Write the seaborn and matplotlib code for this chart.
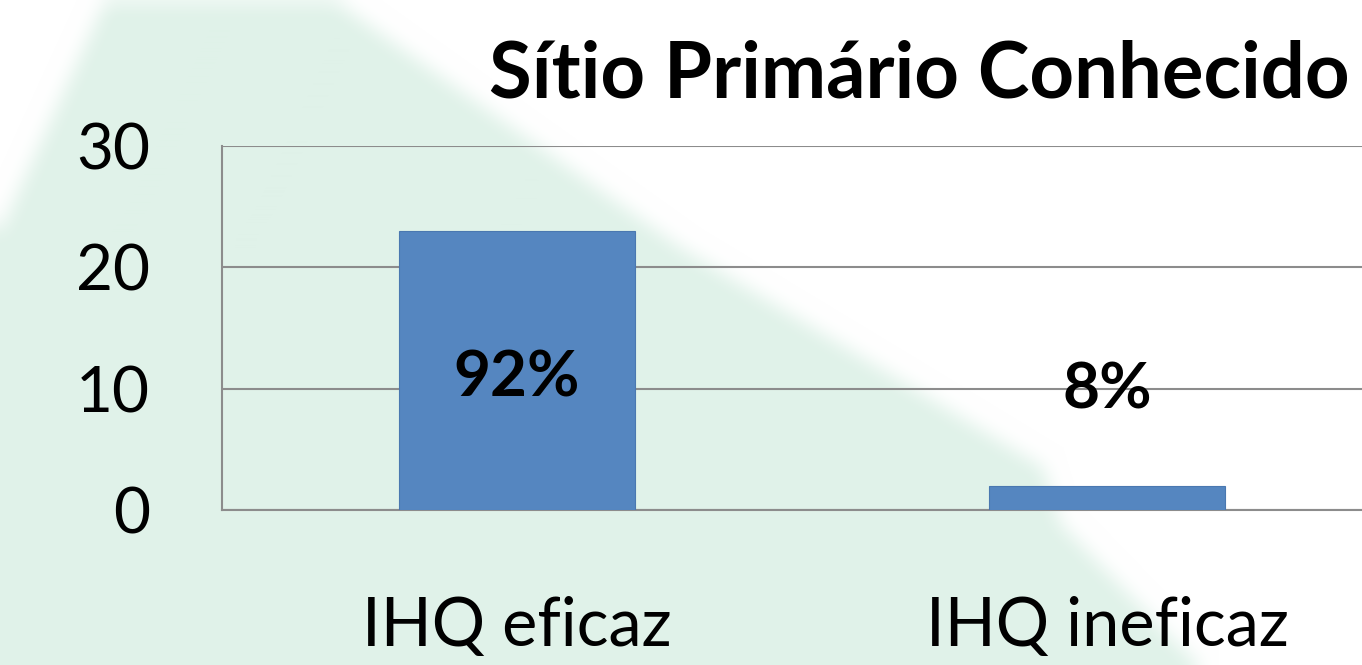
import numpy as np
import matplotlib
matplotlib.use('Agg')
import matplotlib.pyplot as plt
from matplotlib.path import Path
import seaborn as sns

# chart data
categories = ['IHQ eficaz', 'IHQ ineficaz']
values = [23, 2]
pct_labels = ['92%', '8%']
y_ticks = [0, 10, 20, 30]

sns.set_style('white')
plt.rcParams['font.family'] = ['Lato', 'DejaVu Sans']
plt.rcParams['text.color'] = 'black'
plt.rcParams['xtick.color'] = 'black'
plt.rcParams['ytick.color'] = 'black'

W, H = 1362, 665
fig = plt.figure(figsize=(W / 100, H / 100), dpi=100)
fig.patch.set_facecolor('white')

# slide background: soft green diagonal band
yy, xx = np.mgrid[0:H, 0:W]
poly = Path([(105, 0), (334, 0), (540, 147), (680, 247), (900, 380), (1043, 467),
             (1060, 523), (1183, 650), (1200, 665), (0, 665), (0, 230)])
mask = poly.contains_points(np.c_[xx.ravel(), yy.ravel()]).reshape(H, W).astype(float)


def box_blur(a, r):
    for axis in (0, 1):
        pad = [(0, 0), (0, 0)]
        pad[axis] = (r + 1, r)
        c = np.cumsum(np.pad(a, pad, mode='edge'), axis=axis)
        a = (np.take(c, range(2 * r + 1, c.shape[axis]), axis=axis)
             - np.take(c, range(0, c.shape[axis] - 2 * r - 1), axis=axis)) / (2 * r + 1)
    return a


mask = box_blur(box_blur(mask, 10), 10)
green = np.array([224, 242, 233]) / 255.0
img = 1 - mask[..., None] * (1 - green)

bg = fig.add_axes([0, 0, 1, 1], zorder=-1)
bg.imshow(img, aspect='auto', extent=(0, W, H, 0), interpolation='bilinear')
bg.axis('off')

ax = fig.add_axes([222 / W, 155 / H, (1402 - 222) / W, 364 / H], zorder=1)
ax.patch.set_alpha(0)

sns.barplot(x=categories, y=values, color='#5586c0', saturation=1, width=0.4,
            edgecolor='#4a78b0', linewidth=0.8, ax=ax, zorder=3)

ax.set_xlim(-0.5, 1.5)
ax.set_ylim(0, 30)
ax.set_yticks(y_ticks)
ax.set_yticklabels([str(t) for t in y_ticks], fontsize=46)
ax.tick_params(axis='y', length=0, pad=52)
ax.tick_params(axis='x', length=0, pad=62, labelsize=48)
ax.set_xlabel('')
ax.set_ylabel('')
ax.set_axisbelow(True)
ax.yaxis.grid(True, color='#8c8c8c', linewidth=1.5)
for side in ['top', 'right']:
    ax.spines[side].set_visible(False)
for side in ['left', 'bottom']:
    ax.spines[side].set_color('#8c8c8c')
    ax.spines[side].set_linewidth(1.5)

# percentage labels
label_y = [10.9, 9.9]
for i, lab in enumerate(pct_labels):
    ax.text(i, label_y[i], lab, ha='center', va='center', fontsize=46,
            fontweight='bold', color='black', zorder=4)

fig.text(1350 / W, (H - 97) / H, 'Sítio Primário Conhecido', ha='right',
         va='baseline', fontsize=56, fontweight='bold', color='black')

fig.savefig('out.png', dpi=100)
